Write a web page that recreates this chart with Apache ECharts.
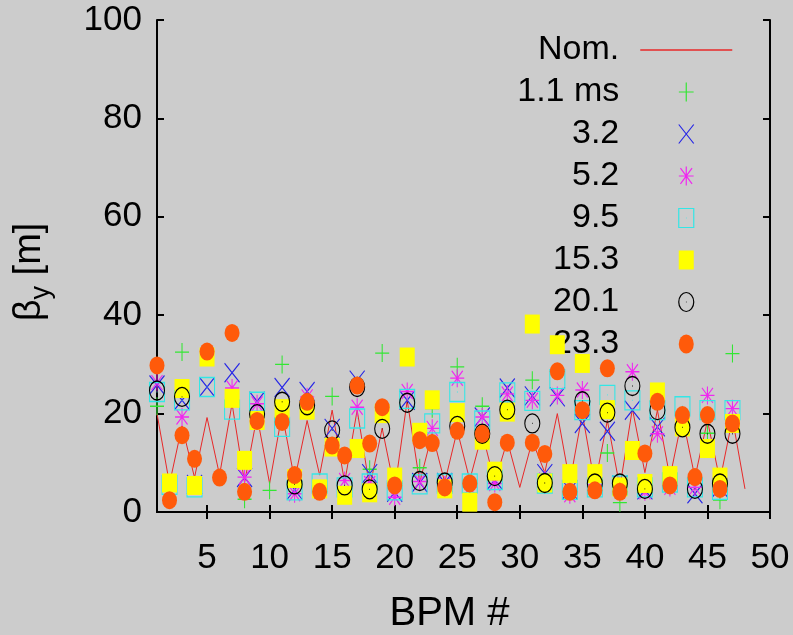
<!DOCTYPE html>
<html>
<head>
<meta charset="utf-8">
<script src="https://cdn.jsdelivr.net/npm/echarts@6/dist/echarts.min.js"></script>
<style>
html,body{margin:0;padding:0;background:#cccccc;}
#c{width:793px;height:635px;}
</style>
</head>
<body>
<div id="c"></div>
<script>
// ---------- data ----------
const bpm = [1,2,3,4,5,6,7,8,9,10,11,12,13,14,15,16,17,18,19,20,21,22,23,24,25,26,27,28,29,30,31,32,33,34,35,36,37,38,39,40,41,42,43,44,45,46,47];
const bpmNom = [1,2,3,4,5,6,7,8,9,10,11,12,13,14,15,16,17,18,19,20,21,22,23,24,25,26,27,28,29,30,31,32,33,34,35,36,37,38,39,40,41,42,43,44,45,46,47,48];
const nominal = [20,5.7,17.5,7,19.2,7.5,22,6,19.5,5.8,20,6.5,18.6,7.5,20.7,6,20.7,5,17,4.5,22.7,6,16,6,16.6,6.5,16,6,14.5,5,14.5,8,20,6,20,5.5,18.6,5,21,8,20.7,7,19.3,7,18.6,6.4,19,4.7];
const ms1_1 = [21.5,null,32.5,null,null,null,null,2.6,null,4.4,30,null,null,null,23.5,null,null,8.7,32.3,null,null,9,21,null,29.5,null,21.5,null,null,null,26.8,null,null,null,null,null,12,1.9,null,null,null,null,null,null,16,2.4,32.2];
const ms3_2 = [25.8,null,22.7,5.6,25.4,null,28.3,7,22.5,null,25.3,4.5,24.5,null,17,null,26.8,7.8,null,4,22.7,6,null,6,null,null,19.3,6.5,25.2,null,23.6,7.8,23.4,4.5,18,null,16.4,5.5,20.7,4.5,17.3,null,null,3.7,null,5,null];
const ms5_2 = [26.3,null,19.3,null,null,null,25.2,7.1,22,null,null,3.7,23.4,null,null,6.4,21.3,5.8,null,3,24.5,6.2,17,5.5,27.2,5,19.3,5.8,24,null,22.7,6.5,23.7,3.5,24.8,5.5,null,5.5,28.5,4.1,15.9,5,null,5,23.7,5,21];
const ms9_5 = [24.4,5.5,22.7,5,25.4,null,20.8,null,22.4,null,17.3,4.4,null,5.8,null,5,19,5.8,null,4.4,23,5.6,18,5.8,24.4,5.8,18.6,6.5,24.3,null,22.6,5.8,27,4.5,20.7,5,23.8,5.4,22.7,5,20.7,6,21.5,5,20.7,4.5,20.7];
const ms15_3 = [null,5.9,25.1,5.4,31.5,null,23.1,10.5,18.6,null,21,6.8,20.7,4.7,13.2,3.4,12.9,3.9,20,7.1,31.5,16.2,22.8,4.7,20.2,2,14.6,8.3,20.3,null,38.2,5.9,34,7.8,30.2,7.8,20.8,5.1,12.5,5.8,24.4,7.4,17.3,null,12.9,7.1,18];
const ms20_1 = [24.7,null,23.4,null,null,null,null,null,19.9,null,22.4,5.6,21.7,null,16.6,5.4,25.4,4.6,16.9,null,22.2,6.3,null,6,17.5,null,15.9,7.3,20.8,null,18,5.9,null,null,22.5,5.8,20.2,5.8,25.6,4.7,20.7,null,17.2,4.7,15.9,5.8,15.9];
const ms23_3 = [29.8,2.4,15.6,10.8,32.6,7,36.4,4.1,18.5,null,18.3,7.5,22.4,4.1,13.5,11.5,25.7,13.9,21.3,5.4,null,14.6,14,5,16.5,5.8,15.9,2,14.1,null,14.1,11.8,28.6,4.1,20.7,4.4,29.2,4.1,null,11.9,22.4,5.4,19.7,7.1,19.7,4.7,18];
const xTicks = [5,10,15,20,25,30,35,40,45,50];
const yTicks = [0,20,40,60,80,100];
const names = ['Nom.','1.1 ms','3.2','5.2','9.5','15.3','20.1','23.3'];

// ---------- styles ----------
const FONT = "'Liberation Sans',Arial,Helvetica,sans-serif";
const SYM = {
  plus: 'path://M0,9L14,9M7,0L7,18',
  cross: 'path://M0,0L15,19M15,0L0,19',
  star: 'path://M0,9L14,9M7,0L7,18M1.5,1.5L12.5,16.5M12.5,1.5L1.5,16.5',
  boxDot: 'path://M0,0L15,0L15,19L0,19Z M7.2,9.5L7.8,9.5',
  box: 'path://M0,0L15,0L15,19L0,19Z',
  ringDot: 'path://M15,9.5A7.5,9.5,0,1,1,0,9.5A7.5,9.5,0,1,1,15,9.5Z M7.2,9.5L7.8,9.5',
  disc: 'path://M15,9.5A7.5,9.5,0,1,1,0,9.5A7.5,9.5,0,1,1,15,9.5Z'
};
const T = 'rgba(0,0,0,0)';
const defs = [
  {name: names[1], vals: ms1_1, sym: SYM.plus, size: [14,18], fill: '#33e633', stroke: '#33e633', bw: 1.2},
  {name: names[2], vals: ms3_2, sym: SYM.cross, size: [15,19], fill: '#2626e6', stroke: '#2626e6', bw: 1.2},
  {name: names[3], vals: ms5_2, sym: SYM.star, size: [14,18], fill: '#f028f0', stroke: '#f028f0', bw: 1.2},
  {name: names[4], vals: ms9_5, sym: SYM.boxDot, size: [15,19], fill: T, stroke: '#33e6e6', bw: 1.2},
  {name: names[5], vals: ms15_3, sym: SYM.box, size: [15,19], fill: '#ffff00', stroke: '#ffff00', bw: 0},
  {name: names[6], vals: ms20_1, sym: SYM.ringDot, size: [15,19], fill: T, stroke: '#000000', bw: 1.2},
  {name: names[7], vals: ms23_3, sym: SYM.disc, size: [15,18], fill: '#ff5a0a', stroke: '#ff5a0a', bw: 0}
];
function pairs(xs, ys){ const out=[]; for(let i=0;i<xs.length;i++){ if(ys[i]!==null) out.push([xs[i], ys[i]]); } return out; }

const series = [{
  name: names[0], type: 'line', data: pairs(bpmNom, nominal), symbol: 'none',
  lineStyle: {color: '#e82828', width: 1}, itemStyle: {color: '#e82828'}, z: 1, silent: true
}];
defs.forEach((d,i) => {
  series.push({
    name: d.name, type: 'scatter', data: pairs(bpm, d.vals), symbol: d.sym, symbolSize: d.size,
    itemStyle: {color: d.fill, borderColor: d.stroke, borderWidth: d.bw, opacity: 1},
    z: 2 + i, silent: true
  });
});

const legendData = [{name: names[0], lineStyle: {color: '#e82828', width: 1.5},
  itemStyle: {color: T, borderColor: T, borderWidth: 0, opacity: 0}}].concat(defs.map(d => ({
  name: d.name, itemStyle: {color: d.fill, borderColor: d.stroke, borderWidth: d.bw}
})));

const axisLineStyle = {color: '#000', width: 2};
const option = {
  backgroundColor: '#cccccc',
  animation: false,
  grid: {left: 157, right: 23, top: 20, bottom: 123, containLabel: false, outerBoundsMode: 'none'},
  legend: {
    data: legendData, orient: 'vertical', align: 'right', right: 60, top: 31, padding: 0,
    itemWidth: 92, itemHeight: 19, itemGap: 4, selectedMode: false,
    textStyle: {fontFamily: FONT, fontSize: 34, color: '#000', lineHeight: 38, padding: [0,16,0,0]}
  },
  xAxis: [{
    type: 'value', min: 1, max: 50, position: 'bottom',
    name: 'BPM #', nameLocation: 'middle', nameGap: 82,
    nameTextStyle: {fontFamily: FONT, fontSize: 40, color: '#000', padding: [0, 28, 0, 0]},
    axisLine: {show: true, lineStyle: axisLineStyle},
    axisTick: {show: true, inside: true, length: 7, customValues: xTicks, lineStyle: {color: '#000', width: 2}},
    axisLabel: {show: true, customValues: xTicks, margin: 29, fontFamily: FONT, fontSize: 35, color: '#000'},
    splitLine: {show: false}
  }, {
    type: 'value', min: 1, max: 50, position: 'top',
    axisLine: {show: true, lineStyle: axisLineStyle},
    axisTick: {show: true, inside: true, length: 7, customValues: xTicks, lineStyle: {color: '#000', width: 2}},
    axisLabel: {show: false}, splitLine: {show: false}
  }],
  yAxis: [{
    type: 'value', min: 0, max: 100, interval: 20, position: 'left',
    name: '{b|β}{s|y}{b| [m]}', nameLocation: 'middle', nameGap: 102, nameRotate: 90,
    nameTextStyle: {padding: [0, 12, 0, 0], rich: {
      b: {fontFamily: FONT, fontSize: 38, color: '#000', lineHeight: 50},
      s: {fontFamily: FONT, fontSize: 27, color: '#000', lineHeight: 50, verticalAlign: 'bottom'}
    }},
    axisLine: {show: true, lineStyle: axisLineStyle},
    axisTick: {show: true, inside: true, length: 7, lineStyle: {color: '#000', width: 2}},
    axisLabel: {show: true, margin: 15, fontFamily: FONT, fontSize: 35, color: '#000'},
    splitLine: {show: false}
  }, {
    type: 'value', min: 0, max: 100, interval: 20, position: 'right',
    axisLine: {show: true, lineStyle: axisLineStyle},
    axisTick: {show: true, inside: true, length: 7, lineStyle: {color: '#000', width: 2}},
    axisLabel: {show: false}, splitLine: {show: false}
  }],
  series: series
};
const chart = echarts.init(document.getElementById('c'), null, {renderer: 'canvas'});
chart.setOption(option);
</script>
</body>
</html>
